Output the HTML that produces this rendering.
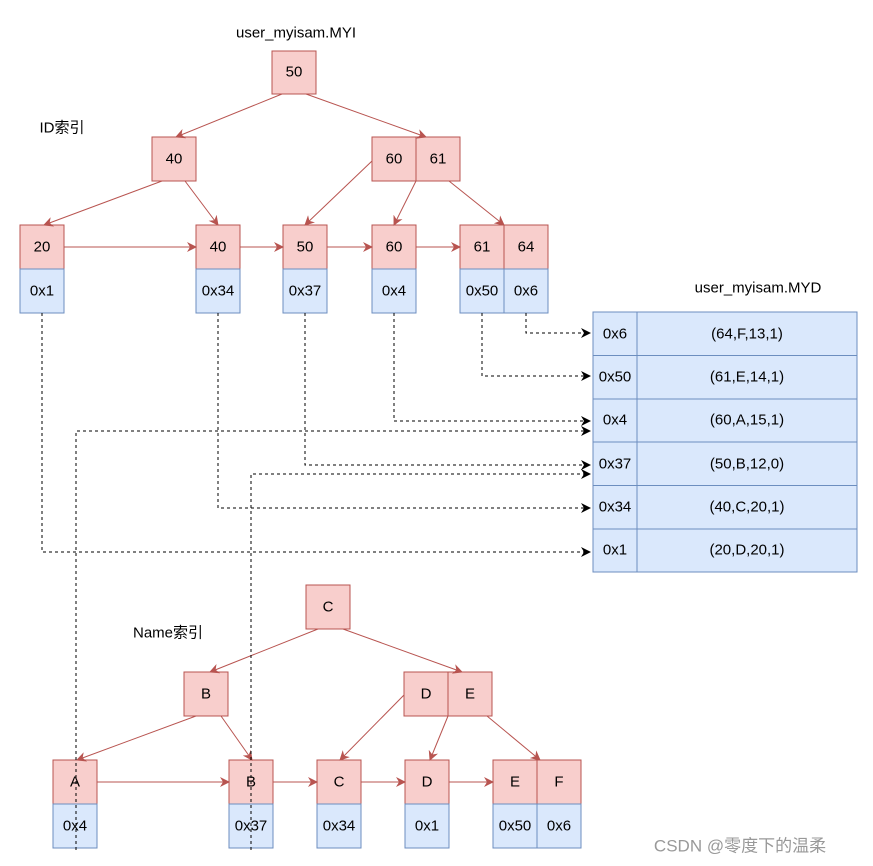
<!DOCTYPE html>
<html><head><meta charset="utf-8"><style>body{margin:0;background:#fff}svg{display:block}text{font-family:"Liberation Sans","Noto Sans CJK SC",sans-serif;font-size:15px;fill:#000;text-anchor:middle;dominant-baseline:central}</style></head><body>
<svg width="873" height="866" viewBox="0 0 873 866" xmlns="http://www.w3.org/2000/svg">
<defs>
<marker id="r" markerWidth="10" markerHeight="10" refX="9" refY="5" orient="auto" markerUnits="userSpaceOnUse"><path d="M0,0 L10,5 L0,10 L3,5 z" fill="#b85450"/></marker>
<marker id="k" markerWidth="10" markerHeight="10" refX="9" refY="5" orient="auto" markerUnits="userSpaceOnUse"><path d="M0,0 L10,5 L0,10 L3,5 z" fill="#000"/></marker>
</defs>
<g stroke="#b85450" fill="#f8cecc" stroke-width="1">
<rect x="272" y="51" width="44" height="43"/>
<rect x="152" y="137" width="44" height="44"/>
<rect x="372" y="137" width="44" height="44"/><rect x="416" y="137" width="44" height="44"/>
<rect x="20" y="225" width="44" height="44"/><rect x="196" y="225" width="44" height="44"/><rect x="283" y="225" width="44" height="44"/><rect x="372" y="225" width="44" height="44"/><rect x="460" y="225" width="44" height="44"/><rect x="504" y="225" width="44" height="44"/>
<rect x="306" y="585" width="44" height="44"/>
<rect x="184" y="672" width="44" height="44"/>
<rect x="404" y="672" width="44" height="44"/><rect x="448" y="672" width="44" height="44"/>
<rect x="53" y="760" width="44" height="44"/><rect x="229" y="760" width="44" height="44"/><rect x="317" y="760" width="44" height="44"/><rect x="405" y="760" width="44" height="44"/><rect x="493" y="760" width="44" height="44"/><rect x="537" y="760" width="44" height="44"/>
</g>
<g stroke="#6c8ebf" fill="#dae8fc" stroke-width="1">
<rect x="20" y="269" width="44" height="44"/><rect x="196" y="269" width="44" height="44"/><rect x="283" y="269" width="44" height="44"/><rect x="372" y="269" width="44" height="44"/><rect x="460" y="269" width="44" height="44"/><rect x="504" y="269" width="44" height="44"/>
<rect x="53" y="804" width="44" height="44"/><rect x="229" y="804" width="44" height="44"/><rect x="317" y="804" width="44" height="44"/><rect x="405" y="804" width="44" height="44"/><rect x="493" y="804" width="44" height="44"/><rect x="537" y="804" width="44" height="44"/>
<rect x="593" y="312" width="44" height="43.5"/><rect x="637" y="312" width="220" height="43.5"/>
<rect x="593" y="355.5" width="44" height="43.5"/><rect x="637" y="355.5" width="220" height="43.5"/>
<rect x="593" y="399" width="44" height="43"/><rect x="637" y="399" width="220" height="43"/>
<rect x="593" y="442" width="44" height="43.5"/><rect x="637" y="442" width="220" height="43.5"/>
<rect x="593" y="485.5" width="44" height="43.5"/><rect x="637" y="485.5" width="220" height="43.5"/>
<rect x="593" y="529" width="44" height="43"/><rect x="637" y="529" width="220" height="43"/>
</g>
<g stroke="#b85450" fill="none" marker-end="url(#r)">
<line x1="282" y1="94" x2="176" y2="137"/><line x1="306" y1="94" x2="426" y2="137"/>
<line x1="162" y1="181" x2="44" y2="225"/><line x1="185" y1="181" x2="218" y2="225"/>
<line x1="372" y1="161" x2="305" y2="225"/><line x1="416" y1="181" x2="394" y2="225"/><line x1="449" y1="181" x2="504" y2="225"/>
<line x1="64" y1="247" x2="196" y2="247"/><line x1="240" y1="247" x2="283" y2="247"/><line x1="327" y1="247" x2="372" y2="247"/><line x1="416" y1="247" x2="460" y2="247"/>
<line x1="318" y1="629" x2="210" y2="672"/><line x1="343" y1="629" x2="462" y2="672"/>
<line x1="196" y1="716" x2="77" y2="760"/><line x1="221" y1="716" x2="252" y2="760"/>
<line x1="404" y1="695" x2="340" y2="760"/><line x1="448" y1="716" x2="430" y2="760"/><line x1="487" y1="716" x2="540" y2="760"/>
<line x1="97" y1="782" x2="229" y2="782"/><line x1="273" y1="782" x2="317" y2="782"/><line x1="361" y1="782" x2="405" y2="782"/><line x1="449" y1="782" x2="493" y2="782"/>
</g>
<g stroke="#000" fill="none" stroke-dasharray="3,3" marker-end="url(#k)">
<path d="M42,313 V552 H590"/><path d="M218,313 V508 H590"/><path d="M305,313 V465 H590"/><path d="M394,313 V421 H590"/><path d="M482,313 V376 H590"/><path d="M526,313 V333 H590"/>
<path d="M76,850 V431 H590"/><path d="M251,850 V474 H590"/>
</g>
<text x="294" y="72">50</text><text x="174" y="159">40</text><text x="394" y="159">60</text><text x="438" y="159">61</text>
<text x="42" y="247">20</text><text x="218" y="247">40</text><text x="305" y="247">50</text><text x="394" y="247">60</text><text x="482" y="247">61</text><text x="526" y="247">64</text>
<text x="42" y="291">0x1</text><text x="218" y="291">0x34</text><text x="305" y="291">0x37</text><text x="394" y="291">0x4</text><text x="482" y="291">0x50</text><text x="526" y="291">0x6</text>
<text x="328" y="607">C</text><text x="206" y="694">B</text><text x="426" y="694">D</text><text x="470" y="694">E</text>
<text x="75" y="782">A</text><text x="251" y="782">B</text><text x="339" y="782">C</text><text x="427" y="782">D</text><text x="515" y="782">E</text><text x="559" y="782">F</text>
<text x="75" y="826">0x4</text><text x="251" y="826">0x37</text><text x="339" y="826">0x34</text><text x="427" y="826">0x1</text><text x="515" y="826">0x50</text><text x="559" y="826">0x6</text>
<text x="615" y="334">0x6</text><text x="747" y="334">(64,F,13,1)</text>
<text x="615" y="377">0x50</text><text x="747" y="377">(61,E,14,1)</text>
<text x="615" y="420">0x4</text><text x="747" y="420">(60,A,15,1)</text>
<text x="615" y="464">0x37</text><text x="747" y="464">(50,B,12,0)</text>
<text x="615" y="507">0x34</text><text x="747" y="507">(40,C,20,1)</text>
<text x="615" y="550">0x1</text><text x="747" y="550">(20,D,20,1)</text>
<text x="296" y="33">user_myisam.MYI</text>
<text x="758" y="288">user_myisam.MYD</text>
<text x="62" y="128">ID索引</text>
<text x="168" y="633">Name索引</text>
<text x="740" y="846" style="font-size:17px;fill:#999">CSDN @零度下的温柔</text>
</svg>
</body></html>
